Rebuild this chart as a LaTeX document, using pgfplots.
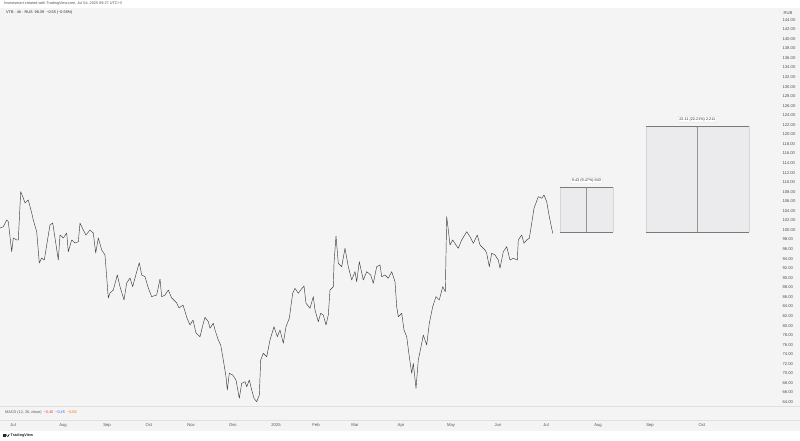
\documentclass[border=0pt]{standalone}
\usepackage{pgfplots}
\pgfplotsset{compat=1.18}
\usepackage{fontspec}
\setmainfont{Liberation Sans}
\usetikzlibrary{arrows.meta}
\definecolor{bg}{HTML}{F4F4F4}
\definecolor{pane}{HTML}{E0E0E0}
\definecolor{pline}{HTML}{3C3C3C}
\definecolor{boxfill}{HTML}{EBEBED}
\definecolor{boxedge}{HTML}{7A7A7A}
\definecolor{boxside}{HTML}{D6D6D9}
\definecolor{lbl}{HTML}{555555}
\definecolor{macdred}{HTML}{F23645}
\definecolor{macdblue}{HTML}{2962FF}
\definecolor{macdorange}{HTML}{FF6D00}
\newcommand{\tf}{\fontsize{4.2}{5}\selectfont}
\pgfplotstableread{
x p
0 100.4
3.3 100.69
6.7 102.09
8.3 101.74
11.7 95.46
13.3 98.33
16.7 97.91
18.3 97.91
20.7 108.01
23.3 106.69
25 105.65
28.3 106.28
31.7 103.56
33.3 102.09
36.7 99.64
39.3 93.10
41.7 94.14
44.3 93.72
46.7 96.86
50 101.05
52.7 101.46
55 98.33
58.3 93.72
60 98.95
63.3 98.33
66.7 99.37
68.3 95.46
71.7 97.91
75 97.28
78.3 97.55
80 101.46
83.3 100
86 98.95
90 100
93.3 99.37
95.7 95.19
98.3 98.33
101.7 95.82
105 94.77
108.3 85.77
110 86.82
113.3 87.45
117.3 90.59
120 88.14
124 85.36
126.7 88.91
130 89.96
132.7 88.14
136.7 91.28
139.3 93.16
141.7 90.59
145 90.23
148.3 87.87
151.7 86.05
156.7 86.40
160 89.75
161.7 86.05
165 86.40
168.3 87.45
171.7 85.77
176.7 84.73
179 83.68
183 84.31
187 81.59
190 80.13
193 81.17
196 78.45
200 77.68
203.3 80.48
205 81.74
208.3 80.82
210 79.44
213.3 80.48
215 79.08
218.3 76.99
220.7 75.94
223.3 72.80
226 69.31
227.3 66.53
229.3 70.02
232.7 69.67
236 68.62
239.3 64.79
241.7 67.93
245 68.26
246.7 67.22
249.3 68.62
251.7 66.53
254 64.79
256.7 64.08
259.3 65.48
260.7 72.80
263.3 74.21
266.7 73.49
270 76.99
274 79.77
277.3 77.68
280 79.08
283.3 76.30
286 79.77
289.3 81.53
292.7 86.76
295 87.80
298.3 86.76
300.7 87.45
304 88.28
306 84.67
310 83.62
313.3 86.05
315 83.26
318.3 80.82
320.7 82.57
323.3 82.22
326 80.13
328.3 82.22
330 87.45
333.3 88.14
334 93.03
336 98.74
338.3 93.03
341.7 92.32
345 96.17
348.3 92.32
351.7 89.54
355 91.28
356.7 89.18
359.3 93.37
363.3 89.54
366.7 91.28
370.7 90.59
373.3 88.85
376.7 92.32
380 92.68
381.7 90.23
385 90.59
388.3 89.90
391.7 91.28
395 89.18
396.7 83.95
398.3 81.86
401.7 82.57
404 79.08
406.7 77.68
409.3 73.49
411.7 70.02
413.3 72.11
416 66.88
418.3 72.80
421.7 76.30
423.3 78.03
426.7 75.94
429.3 80.48
432.7 83.95
436 86.05
439.3 85.36
442.7 88.14
445.3 87.09
446.7 102.78
448.3 100
450 96.86
452.7 97.91
456 96.86
458.3 96.17
461.7 97.91
466.7 99.64
470 98.60
473.3 97.22
477.3 98.95
480 96.86
485 95.82
486.7 95.13
489.3 92.32
491.7 95.13
495 94.77
498.3 93.72
500 91.99
503.3 95.46
506.7 96.51
510 93.72
513.3 94.08
517.3 93.72
518.3 97.91
521.7 98.95
524 97.22
526.7 97.91
529.3 98.26
531.7 101.40
534 104.54
538.3 106.97
541.7 106.63
544 107.32
546.7 105.92
549.3 102.78
552.7 99.31
}\price
\begin{document}
\begin{tikzpicture}
\path[use as bounding box] (0pt,0pt) rectangle (800pt,441pt);
\fill[white] (0pt,0pt) rectangle (800pt,441pt);
\fill[bg] (0pt,10pt) rectangle (800pt,433pt);
\draw[pane,line width=0.5pt] (0pt,35pt) -- (800pt,35pt);
\draw[pane,line width=0.5pt] (0pt,21pt) -- (800pt,21pt);
\begin{axis}[
  at={(0pt,35pt)}, anchor=south west,
  scale only axis, width=766pt, height=398pt,
  xmin=0, xmax=766, ymin=63.18, ymax=146.44,
  axis line style={draw=none}, major tick length=0pt, tick style={draw=none},
  ytick={64,66,...,144}, yticklabel pos=right,
  yticklabel={\pgfmathprintnumber[fixed,fixed zerofill,precision=2,assume math mode=true]{\tick}},
  yticklabel style={font=\tf, text=lbl, anchor=west, xshift=13pt},
  xtick={13,63,107,149,191,233,276,316,355,401,451,498,546,598,650,702},
  xticklabels={Jul,Aug,Sep,Oct,Nov,Dec,2025,Feb,Mar,Apr,May,Jun,Jul,Aug,Sep,Oct},
  xticklabel style={font=\tf, text=lbl, anchor=center, yshift=-19.5pt},
  clip=false,
]
% measurement box 1
\addplot[fill=boxfill, draw=none] coordinates {(560,99.55) (612.7,99.55) (612.7,108.98) (560,108.98)} -- cycle;
\addplot[boxside, line width=0.4pt] coordinates {(560,99.55) (560,108.98)};
\addplot[boxside, line width=0.4pt] coordinates {(612.7,99.55) (612.7,108.98)};
\addplot[boxedge, line width=0.5pt] coordinates {(560,99.55) (612.7,99.55)};
\addplot[boxedge, line width=0.5pt] coordinates {(560,108.98) (612.7,108.98)};
\draw[boxedge!80, line width=0.5pt, -{Stealth[length=1.6pt,width=1.6pt]}] (axis cs:586.5,99.55) -- (axis cs:586.5,108.98);
\node[font=\fontsize{3.8}{4}\selectfont, fill=white, draw=pane, rounded corners=0.8pt, inner sep=1.2pt, text=black!80] at (axis cs:586.5,110.3) {9.43 (9.47\%) 943};
% measurement box 2
\addplot[fill=boxfill, draw=none] coordinates {(646,99.55) (749.3,99.55) (749.3,121.66) (646,121.66)} -- cycle;
\addplot[boxside, line width=0.4pt] coordinates {(646,99.55) (646,121.66)};
\addplot[boxside, line width=0.4pt] coordinates {(749.3,99.55) (749.3,121.66)};
\addplot[boxedge, line width=0.5pt] coordinates {(646,99.55) (749.3,99.55)};
\addplot[boxedge, line width=0.5pt] coordinates {(646,121.66) (749.3,121.66)};
\draw[boxedge!80, line width=0.5pt, -{Stealth[length=1.6pt,width=1.6pt]}] (axis cs:697.3,99.55) -- (axis cs:697.3,121.66);
\node[font=\fontsize{3.8}{4}\selectfont, fill=white, draw=pane, rounded corners=0.8pt, inner sep=1.2pt, text=black!80] at (axis cs:697.3,123.2) {22.11 (22.21\%) 2,211};
% price
\addplot[pline, line width=0.45pt, line join=round] table[x=x,y=p] {\price};
\end{axis}
\node[anchor=west, font=\fontsize{3.8}{4.5}\selectfont, text=lbl, inner sep=0pt] at (4pt,437pt) {Investsmart created with TradingView.com, Jul 04, 2025 09:27 UTC+3};
\node[anchor=west, font=\fontsize{3.8}{4.5}\selectfont, text=black!85, inner sep=0pt] at (6pt,428pt) {VTB · 4h · RUS\ \ 98.39\ \ −0.55 (−0.55\%)};
\node[anchor=center, font=\tf, text=lbl, inner sep=0pt] at (788pt,428pt) {RUB};
\node[anchor=west, font=\fontsize{3.8}{4.5}\selectfont, text=lbl, inner sep=0pt] at (5pt,28pt) {MACD (12, 26, close)\ \ \textcolor{macdred}{−0.40}\ \ \textcolor{macdblue}{−0.45}\ \ \textcolor{macdorange}{−0.06}};
\fill[black!85] (3pt,4pt) rectangle (5.6pt,6.6pt);
\fill[black!85] (6.6pt,5.9pt) circle (0.7pt);
\fill[black!85] (7pt,4pt) -- (8.6pt,6.6pt) -- (9.6pt,6.6pt) -- (8pt,4pt) -- cycle;
\node[anchor=west, font=\fontsize{3.8}{4.5}\selectfont\bfseries, text=black!85, inner sep=0pt] at (10.5pt,5.3pt) {TradingView};
\end{tikzpicture}
\end{document}
